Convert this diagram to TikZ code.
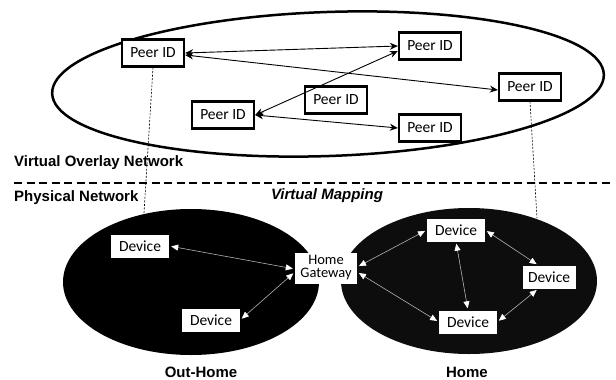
\documentclass[tikz,border=0pt]{standalone}
\usepackage{fontspec}
\setmainfont{Carlito}
\newfontfamily\labelfont{Liberation Sans}
\usetikzlibrary{arrows.meta}
\begin{document}
\begin{tikzpicture}[x=1pt,y=-1pt,
  peer/.style={draw=black, line width=2.3pt, fill=white, minimum width=62pt,
    minimum height=27pt, inner sep=0pt, font=\fontsize{15.5}{16}\selectfont},
  device/.style={fill=white, minimum width=58pt, minimum height=23pt,
    inner sep=0pt, font=\fontsize{15.5}{16}\selectfont},
  peerlink/.style={draw=black, line width=0.9pt,
    {Stealth[length=8pt,width=7pt]}-{Stealth[length=8pt,width=7pt]}},
  devlink/.style={draw=white!70!black, line width=0.6pt, shorten <=2pt, shorten >=2pt,
    {Triangle[length=7pt,width=6pt,fill=white,color=white]}-{Triangle[length=7pt,width=6pt,fill=white,color=white]}},
  mapline/.style={draw=black, line width=0.6pt, dash pattern=on 2pt off 1.5pt},
  sepline/.style={draw=black, line width=1.6pt, dash pattern=on 8pt off 4.5pt},
  caption/.style={font=\labelfont\bfseries\fontsize{15}{15}\selectfont, inner sep=0pt}
]
\useasboundingbox (0,0) rectangle (616,380);

% overlay network
\draw[line width=2.5pt, rotate around={2:(328,84)}] (328,84) ellipse [x radius=276, y radius=72];

\node[peer] (A) at (153,53) {Peer ID};
\node[peer] (B) at (430,46) {Peer ID};
\node[peer] (C) at (530,87) {Peer ID};
\node[peer] (D) at (223,115) {Peer ID};
\node[peer] (E) at (336,100) {Peer ID};
\node[peer] (F) at (430,128) {Peer ID};

\draw[peerlink] (A.east) -- (B.west);
\draw[peerlink] ([yshift=-2pt]A.east) -- ([yshift=-3pt]C.west);
\draw[peerlink] ([yshift=-5pt]B.west) -- (D.east);
\draw[peerlink] (D.east) -- (F.west);

% layer captions and separator
\node[caption, anchor=west] (vo) at (14,163) {Virtual Overlay Network};
\node[caption, anchor=west] (pn) at (14,198) {Physical Network};
\node[caption] (vm) at (327,196) {\itshape Virtual Mapping};
\coordinate (sl) at (14,183);
\coordinate (sr) at (612,183);
\draw[sepline] (sl) -- (sr);

% physical network
\fill[black] (191,282) ellipse [x radius=128, y radius=73];
\fill[black!95] (469,281) ellipse [x radius=128, y radius=73];

\node[device] (G1) at (140,246) {Device};
\node[device] (G2) at (211,320) {Device};
\node[device, minimum width=62pt, minimum height=31pt, align=center,
  font=\fontsize{14.5}{13}\selectfont] (GW) at (326,268) {Home\\Gateway};
\node[device] (H1) at (456,230) {Device};
\node[device, minimum width=53pt] (H2) at (549,277) {Device};
\node[device] (H3) at (468,322) {Device};

\draw[devlink] (G1.east) -- ([yshift=-1pt]GW.west);
\draw[devlink] (G2.east) -- ([yshift=-4pt]GW.west);
\draw[devlink] ([yshift=1pt]GW.east) -- (H1.west);
\draw[devlink] ([yshift=-4pt]GW.east) -- (H3.west);
\draw[devlink] (H1.south) -- (H3.north);
\draw[devlink] (H1.east) -- ([xshift=16pt]H2.north west);
\draw[devlink] (H3.east) -- ([xshift=16pt]H2.south west);

% virtual mapping between peers and networks
\coordinate (oa) at (144,213);
\coordinate (hb) at (537,218);
\draw[mapline] (A.south) -- (oa);
\draw[mapline] (C.south) -- (hb);

\node[caption] (oh) at (201,372) {Out-Home};
\node[caption] (hm) at (467,372) {Home};
\end{tikzpicture}
\end{document}
